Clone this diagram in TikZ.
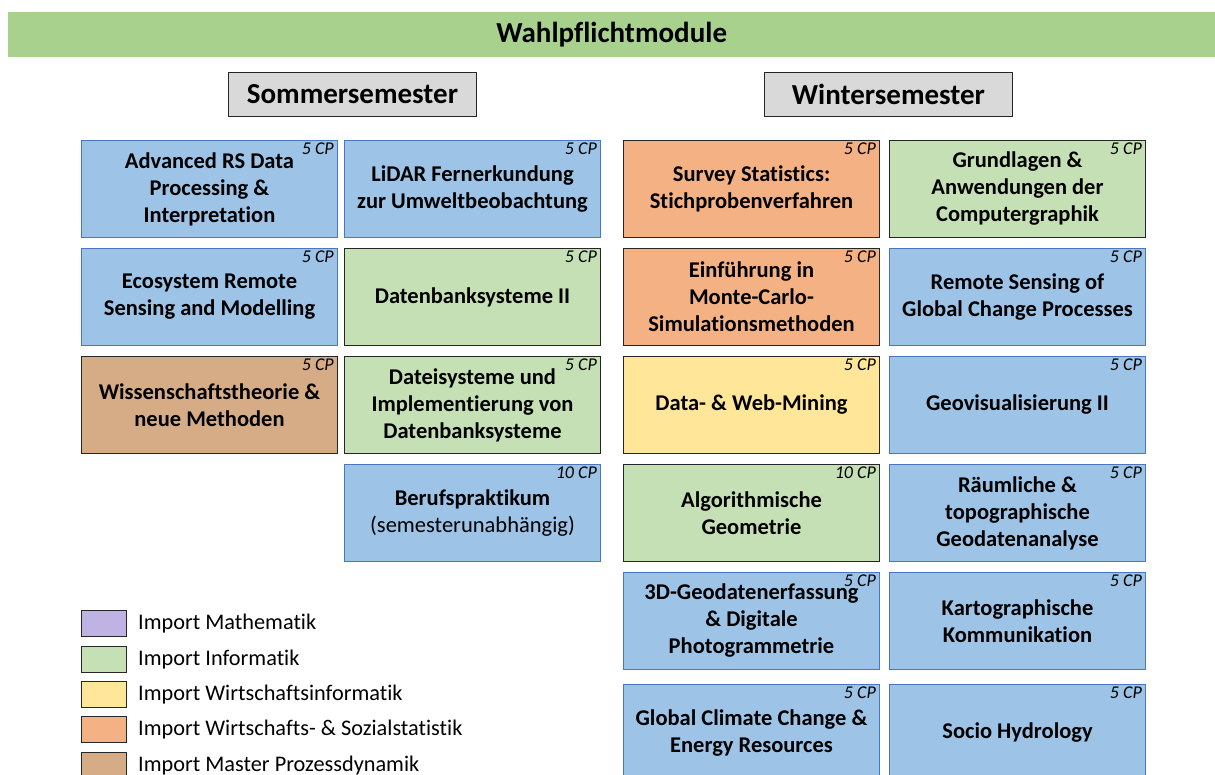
\documentclass[tikz,border=0pt]{standalone}
\usepackage{fontspec}
\setmainfont[Ligatures=NoCommon]{Carlito}

\definecolor{bargreen}{HTML}{A9D18E}
\definecolor{headgray}{HTML}{D9D9D9}
\definecolor{modblue}{HTML}{9DC3E6}
\definecolor{modblueline}{HTML}{4A76C0}
\definecolor{modgreen}{HTML}{C5E0B4}
\definecolor{modorange}{HTML}{F4B183}
\definecolor{modyellow}{HTML}{FFE699}
\definecolor{modbrown}{HTML}{D5AC85}
\definecolor{modpurple}{HTML}{BFB3E4}
\definecolor{darkline}{HTML}{262626}

\tikzset{
  modbase/.style={rectangle, minimum width=256pt, minimum height=97pt, inner sep=0pt,
    align=center, line width=1pt, font=\bfseries\fontsize{22.5}{27}\selectfont},
  bluemod/.style={fill=modblue, draw=modblueline},
  greenmod/.style={fill=modgreen, draw=darkline},
  orangemod/.style={fill=modorange, draw=darkline},
  yellowmod/.style={fill=modyellow, draw=darkline},
  brownmod/.style={fill=modbrown, draw=darkline},
  cplabel/.style={inner sep=0pt, font=\itshape\fontsize{18}{20}\selectfont},
  semhead/.style={rectangle, fill=headgray, draw=darkline, line width=1pt,
    minimum width=248pt, minimum height=44pt, inner sep=0pt,
    font=\bfseries\fontsize{29}{32}\selectfont},
  legsquare/.style={rectangle, draw=darkline, line width=1pt, minimum width=45pt,
    minimum height=26pt, inner sep=0pt},
  legtext/.style={inner sep=0pt, anchor=west, font=\fontsize{22.3}{26}\selectfont},
}

% module box: name, left x, top y, colour style, credit points, title
\newcommand\modbox[6]{%
  \node[modbase, #4, anchor=north west] (#1) at (#2,#3) {#6};
  \node[cplabel, anchor=north east] (#1cp) at ([xshift=-4pt,yshift=-3pt]#1.north east) {#5 CP};
}

\begin{document}
\begin{tikzpicture}[x=1pt, y=-1pt]
  \useasboundingbox (0,0) rectangle (1215,774);
  \clip (0,0) rectangle (1215,774);

  % title bar
  \node[rectangle, fill=bargreen, minimum width=1207pt, minimum height=45pt, inner sep=0pt,
        anchor=north west, font=\bfseries\fontsize{29}{32}\selectfont] (title) at (8,12) {Wahlpflichtmodule};

  % semester headings
  \node[semhead, anchor=north west] (sommer) at (228,72) {Sommersemester};
  \node[semhead, anchor=north west] (winter) at (764,72) {Wintersemester};

  % summer semester modules
  \modbox{ards}{81}{140}{bluemod}{5}{Advanced RS Data\\Processing \&\\Interpretation}
  \modbox{lidar}{344}{140}{bluemod}{5}{LiDAR Fernerkundung\\zur Umweltbeobachtung}
  \modbox{ecosys}{81}{248}{bluemod}{5}{Ecosystem Remote\\Sensing and Modelling}
  \modbox{dbs}{344}{248}{greenmod}{5}{Datenbanksysteme II}
  \modbox{wiss}{81}{356}{brownmod}{5}{Wissenschaftstheorie \&\\neue Methoden}
  \modbox{datei}{344}{356}{greenmod}{5}{Dateisysteme und\\Implementierung von\\Datenbanksysteme}
  \modbox{beruf}{344}{464}{bluemod}{10}{Berufspraktikum\\{\mdseries (semesterunabhängig)}}

  % winter semester modules
  \modbox{survey}{623}{140}{orangemod}{5}{Survey Statistics:\\Stichprobenverfahren}
  \modbox{cg}{889}{140}{greenmod}{5}{Grundlagen \&\\Anwendungen der\\Computergraphik}
  \modbox{monte}{623}{248}{orangemod}{5}{Einführung in\\Monte-Carlo-\\Simulationsmethoden}
  \modbox{rsgc}{889}{248}{bluemod}{5}{Remote Sensing of\\Global Change Processes}
  \modbox{mining}{623}{356}{yellowmod}{5}{Data- \& Web-Mining}
  \modbox{geovis}{889}{356}{bluemod}{5}{Geovisualisierung II}
  \modbox{algo}{623}{464}{greenmod}{10}{Algorithmische\\Geometrie}
  \modbox{raum}{889}{464}{bluemod}{5}{Räumliche \&\\topographische\\Geodatenanalyse}
  \modbox{geo3d}{623}{572}{bluemod}{5}{3D-Geodatenerfassung\\\& Digitale\\Photogrammetrie}
  \modbox{karto}{889}{572}{bluemod}{5}{Kartographische\\Kommunikation}
  \modbox{climate}{623}{684}{bluemod}{5}{Global Climate Change \&\\Energy Resources}
  \modbox{socio}{889}{684}{bluemod}{5}{Socio Hydrology}

  % legend
  \node[legsquare, fill=modpurple, anchor=north west] (lmath) at (81,610) {};
  \node[legtext] (lmatht) at ([xshift=11pt]lmath.east) {Import Mathematik};
  \node[legsquare, fill=modgreen, anchor=north west] (linf) at (81,646) {};
  \node[legtext] (linft) at ([xshift=11pt]linf.east) {Import Informatik};
  \node[legsquare, fill=modyellow, anchor=north west] (lwinf) at (81,681) {};
  \node[legtext] (lwinft) at ([xshift=11pt]lwinf.east) {Import Wirtschaftsinformatik};
  \node[legsquare, fill=modorange, anchor=north west] (lstat) at (81,716) {};
  \node[legtext] (lstatt) at ([xshift=11pt]lstat.east) {Import Wirtschafts- \& Sozialstatistik};
  \node[legsquare, fill=modbrown, anchor=north west] (lproz) at (81,752) {};
  \node[legtext] (lprozt) at ([xshift=11pt]lproz.east) {Import Master Prozessdynamik};
\end{tikzpicture}
\end{document}
